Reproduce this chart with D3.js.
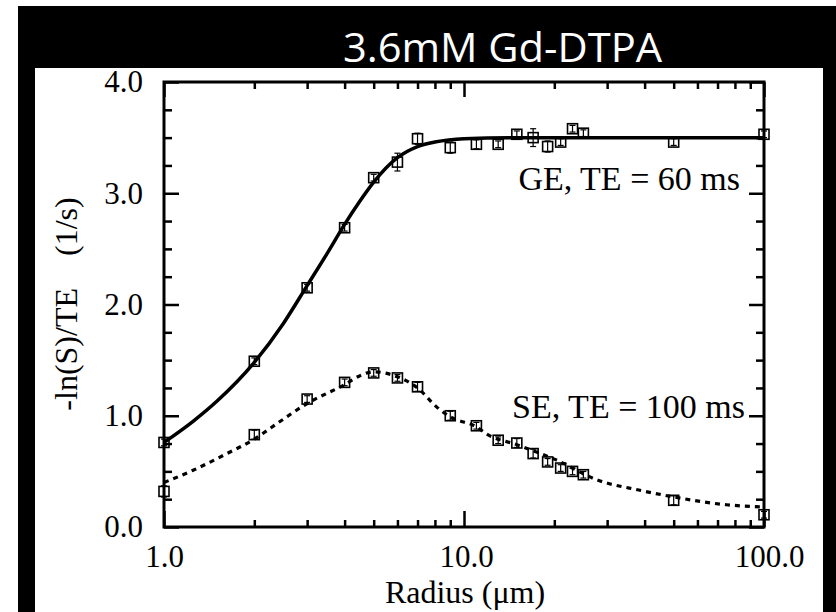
<!DOCTYPE html>
<html><head><meta charset="utf-8">
<script src="https://cdn.jsdelivr.net/npm/d3@7"></script>
<style>body{margin:0;background:#fff}svg{display:block}</style>
</head><body>
<svg id="c" width="836" height="612"></svg>
<script>
// ---- data ----
const title = "3.6mM Gd-DTPA";
const xLabel = "Radius (\u03bcm)";
const yLabel = "-ln(S)/TE    (1/s)";
const geLabel = "GE, TE = 60 ms";
const seLabel = "SE, TE = 100 ms";

const xMajor = [1, 10, 100];
const xMajorLabels = ["1.0", "10.0", "100.0"];
const xMinor = [2,3,4,5,6,7,8,9,20,30,40,50,60,70,80,90];
const yMajor = [0, 1, 2, 3, 4];
const yMajorLabels = ["0.0", "1.0", "2.0", "3.0", "4.0"];
const yMinor = [0.25,0.5,0.75,1.25,1.5,1.75,2.25,2.5,2.75,3.25,3.5,3.75];

// GE measured points (radius um, value, error)
const geR   = [1, 2, 3, 4, 5, 6, 7, 9, 11, 13, 15, 17, 19, 21, 23, 25, 50, 100];
const geV   = [0.76, 1.49, 2.15, 2.69, 3.14, 3.28, 3.49, 3.41, 3.44, 3.44, 3.53, 3.50, 3.42, 3.46, 3.58, 3.54, 3.46, 3.53];
const geErr = [0.03, 0.03, 0.03, 0.03, 0.03, 0.08, 0.05, 0.05, 0.04, 0.03, 0.03, 0.08, 0.05, 0.03, 0.03, 0.03, 0.03, 0.03];
// SE measured points
const seR   = [1, 2, 3, 4, 5, 6, 7, 9, 11, 13, 15, 17, 19, 21, 23, 25, 50, 100];
const seV   = [0.32, 0.83, 1.15, 1.30, 1.385, 1.34, 1.26, 1.00, 0.91, 0.78, 0.755, 0.66, 0.585, 0.53, 0.50, 0.47, 0.24, 0.11];
const seErr = [0.05, 0.04, 0.03, 0.03, 0.03, 0.03, 0.04, 0.04, 0.03, 0.03, 0.04, 0.04, 0.03, 0.03, 0.03, 0.03, 0.04, 0.03];

// fitted curves
const geFitR = [1, 1.25, 1.5, 2, 2.5, 3, 3.5, 4, 4.5, 5, 6, 7, 8, 10, 15, 30, 100];
const geFitV = [0.76, 0.95, 1.13, 1.48, 1.83, 2.17, 2.46, 2.72, 2.93, 3.10, 3.32, 3.42, 3.46, 3.49, 3.50, 3.50, 3.50];
const seFitR = [1, 1.25, 1.62, 2, 2.38, 3, 4, 4.5, 5, 6, 7, 8.1, 9, 11, 12, 15, 20, 28, 38.6, 50, 75, 100];
const seFitV = [0.40, 0.51, 0.66, 0.79, 0.93, 1.11, 1.28, 1.36, 1.395, 1.35, 1.25, 1.08, 0.99, 0.90, 0.83, 0.74, 0.61, 0.42, 0.33, 0.27, 0.20, 0.18];

// ---- layout ----
const svg = d3.select("#c");
const L = 164, R = 764, T = 82, B = 527;
const x = d3.scaleLog().domain([1, 100]).range([L, R]);
const y = d3.scaleLinear().domain([0, 4]).range([B, T]);

svg.append("rect").attr("x", 18).attr("y", 6).attr("width", 818).attr("height", 606).attr("fill", "#000");
svg.append("rect").attr("x", 35).attr("y", 68).attr("width", 788).attr("height", 544).attr("fill", "#fff");

svg.append("text").attr("x", 343).attr("y", 62)
  .attr("font-family", "'Open Sans', 'Noto Sans', sans-serif").attr("font-size", 40)
  .attr("fill", "#fff").attr("textLength", 319).attr("lengthAdjust", "spacingAndGlyphs")
  .text(title);

const serif = "'Liberation Serif', 'Times New Roman', serif";
function styleAxis(g) {
  g.select(".domain").remove();
  g.selectAll(".tick line").attr("stroke", "#000").attr("stroke-width", 2.5);
  g.selectAll(".tick text").attr("font-family", serif).attr("font-size", 31).attr("fill", "#000");
}
// bottom
svg.append("g").attr("transform", `translate(0,${B})`)
  .call(d3.axisBottom(x).tickValues(xMinor).tickSize(-7).tickFormat("")).call(styleAxis);
svg.append("g").attr("transform", `translate(0,${B})`)
  .call(d3.axisBottom(x).tickValues(xMajor).tickSize(-16).tickPadding(18)
    .tickFormat((d, i) => xMajorLabels[i])).call(styleAxis)
  .selectAll(".tick text").attr("dx", (d, i) => [0, 2, 5][i]);
// top
svg.append("g").attr("transform", `translate(0,${T})`)
  .call(d3.axisTop(x).tickValues(xMinor).tickSize(-7).tickFormat("")).call(styleAxis);
svg.append("g").attr("transform", `translate(0,${T})`)
  .call(d3.axisTop(x).tickValues(xMajor).tickSize(-15).tickFormat("")).call(styleAxis);
// left
svg.append("g").attr("transform", `translate(${L},0)`)
  .call(d3.axisLeft(y).tickValues(yMinor).tickSize(-8).tickFormat("")).call(styleAxis);
svg.append("g").attr("transform", `translate(${L},0)`)
  .call(d3.axisLeft(y).tickValues(yMajor).tickSize(-15).tickPadding(21)
    .tickFormat((d, i) => yMajorLabels[i])).call(styleAxis);
// right
svg.append("g").attr("transform", `translate(${R},0)`)
  .call(d3.axisRight(y).tickValues(yMinor).tickSize(-8).tickFormat("")).call(styleAxis);
svg.append("g").attr("transform", `translate(${R},0)`)
  .call(d3.axisRight(y).tickValues(yMajor).tickSize(-15).tickFormat("")).call(styleAxis);

// frame
svg.append("rect").attr("x", L).attr("y", T).attr("width", R - L).attr("height", B - T)
  .attr("fill", "none").attr("stroke", "#000").attr("stroke-width", 3);

// curves
const line = d3.line().x(d => x(d[0])).y(d => y(d[1])).curve(d3.curveMonotoneX);
svg.append("path").datum(geFitR.map((r, i) => [r, geFitV[i]]))
  .attr("d", line).attr("fill", "none").attr("stroke", "#000").attr("stroke-width", 3.5);
svg.append("path").datum(seFitR.map((r, i) => [r, seFitV[i]]))
  .attr("d", line).attr("fill", "none").attr("stroke", "#000").attr("stroke-width", 3.2)
  .attr("stroke-dasharray", "5,5");

// points
function drawPoints(rs, vs, es) {
  const g = svg.append("g");
  const pts = rs.map((r, i) => ({r, v: vs[i], e: es[i]}));
  g.selectAll("line.eb").data(pts).join("line")
    .attr("x1", d => x(d.r)).attr("x2", d => x(d.r))
    .attr("y1", d => y(d.v - d.e)).attr("y2", d => y(d.v + d.e))
    .attr("stroke", "#000").attr("stroke-width", 1.2);
  g.selectAll("line.cap1").data(pts).join("line")
    .attr("x1", d => x(d.r) - 3).attr("x2", d => x(d.r) + 3)
    .attr("y1", d => y(d.v + d.e)).attr("y2", d => y(d.v + d.e))
    .attr("stroke", "#000").attr("stroke-width", 1.2);
  g.selectAll("line.cap2").data(pts).join("line")
    .attr("x1", d => x(d.r) - 3).attr("x2", d => x(d.r) + 3)
    .attr("y1", d => y(d.v - d.e)).attr("y2", d => y(d.v - d.e))
    .attr("stroke", "#000").attr("stroke-width", 1.2);
  g.selectAll("rect").data(pts).join("rect")
    .attr("x", d => x(d.r) - 5).attr("y", d => y(d.v) - 5)
    .attr("width", 10).attr("height", 10)
    .attr("fill", "none").attr("stroke", "#000").attr("stroke-width", 1.6);
}
drawPoints(geR, geV, geErr);
drawPoints(seR, seV, seErr);

// annotations
svg.append("text").attr("x", 740).attr("y", 190).attr("text-anchor", "end")
  .attr("font-family", serif).attr("font-size", 34).text(geLabel);
svg.append("text").attr("x", 745).attr("y", 418).attr("text-anchor", "end")
  .attr("font-family", serif).attr("font-size", 34).text(seLabel);

// axis titles
svg.append("text").attr("x", 465).attr("y", 603).attr("text-anchor", "middle")
  .attr("font-family", serif).attr("font-size", 32).text(xLabel);
svg.append("text").attr("transform", "translate(77,304) rotate(-90)").attr("text-anchor", "middle")
  .attr("font-family", serif).attr("font-size", 32).attr("xml:space", "preserve")
  .style("white-space", "pre").text(yLabel);
</script>
</body></html>
